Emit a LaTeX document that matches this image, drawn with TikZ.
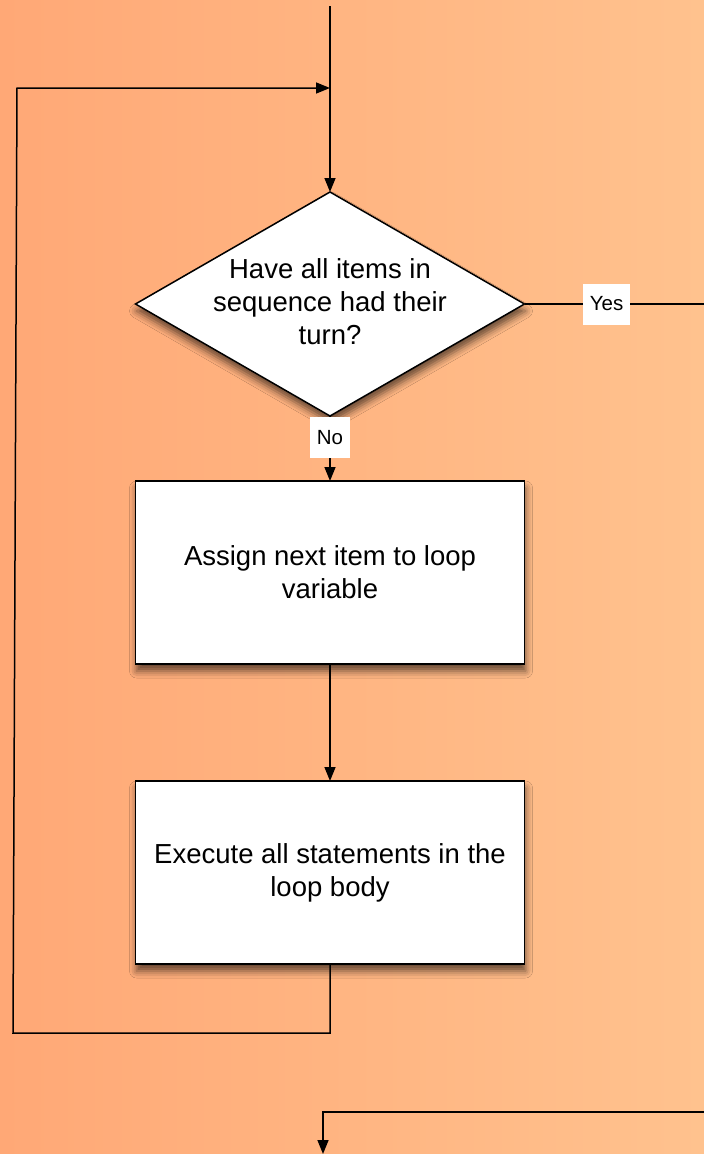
\documentclass[tikz,border=0pt]{standalone}
\usepackage{fontspec}
\setmainfont{Liberation Sans}
\usetikzlibrary{shapes.geometric,arrows.meta,shadows.blur}
\definecolor{bgleft}{RGB}{255,168,118}
\definecolor{bgright}{RGB}{255,194,142}
\begin{document}
\begin{tikzpicture}[x=1pt,y=-1pt,
  conn/.style={line width=1.5pt,draw=black},
  arr/.style={conn,-{Triangle[length=14pt,width=11pt]}},
  procbox/.style={draw=black,line width=1.5pt,fill=white,minimum width=389pt,minimum height=183pt,
    inner sep=0pt,outer sep=0pt,align=center,font=\fontsize{27.5}{33}\selectfont,
    blur shadow={shadow xshift=1pt,shadow yshift=-7pt,shadow blur radius=7pt,shadow opacity=60}},
  decision/.style={diamond,draw=black,line width=1.5pt,fill=white,minimum width=389pt,minimum height=224pt,
    inner sep=0pt,outer sep=0pt,
    blur shadow={shadow xshift=1pt,shadow yshift=-7pt,shadow blur radius=7pt,shadow opacity=60}},
  dtext/.style={align=center,font=\fontsize{27.5}{33}\selectfont,inner sep=0pt},
  lab/.style={fill=white,inner xsep=7pt,minimum height=41pt,font=\fontsize{20.5}{24}\selectfont}
]
\useasboundingbox (0,0) rectangle (704,1154);
\shade[left color=bgleft,right color=bgright] (0,0) rectangle (704,1154);

\node[decision] (d) at (330,304) {};
\node[dtext] (dt) at (330,302) {Have all items in\\sequence had their\\turn?};
\node[procbox] (b1) at (330,572.5) {Assign next item to loop\\variable};
\node[procbox] (b2) at (330,872.5) {Execute all statements in the\\loop body};

\coordinate (top) at (330,6);
\coordinate (join) at (330,88);
\coordinate (lb) at (330,1033);
\coordinate (cl1) at (13,1033);
\coordinate (cl2) at (17,88);
\coordinate (yesend) at (704,304);
\coordinate (br) at (704,1112);
\coordinate (bc) at (323,1112);
\coordinate (bend) at (323,1154);

\draw[arr] (top) -- (d.north);
\draw[arr] (b2.south) -- (lb) -- (cl1) -- (cl2) -- (join);
\draw[conn] (d.east) -- (yesend) node[lab,pos=0.457] (yes) {Yes};
\draw[arr] (d.south) -- (b1.north) node[lab,pos=0.33] (no) {No};
\draw[arr] (b1.south) -- (b2.north);
\draw[arr] (br) -- (bc) -- (bend);
\end{tikzpicture}
\end{document}
